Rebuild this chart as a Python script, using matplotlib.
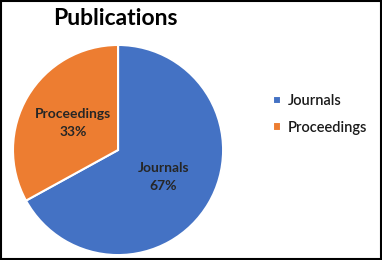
import matplotlib.pyplot as plt
from matplotlib.patches import Rectangle

categories = ["Journals", "Proceedings"]
shares = [67, 33]
colors = ["#4472C4", "#ED7D31"]

plt.rcParams["font.family"] = ["Lato", "DejaVu Sans"]

fig = plt.figure(figsize=(3.82, 2.60), dpi=100)
ax = fig.add_axes([0.034, 0.019, 0.55, 0.808])

wedges, texts, autotexts = ax.pie(
    shares,
    colors=colors,
    startangle=90,
    counterclock=False,
    autopct=lambda p: "",
    pctdistance=0.5,
    wedgeprops={"edgecolor": "white", "linewidth": 1.5},
)
for wedge, at, name, val in zip(wedges, autotexts, categories, shares):
    at.set_text(f"{name}\n{val}%")
    at.set_fontsize(10)
    at.set_fontweight("bold")
    at.set_color("#262626")
    at.set_ha("center")
    at.set_va("center")
    at.set_linespacing(1.6)
ax.set_aspect("equal")
ax.set_xlim(-1, 1)
ax.set_ylim(-1, 1)

fig.text(0.303, 0.93, "Publications", ha="center", va="center",
         fontsize=16.5, fontweight="bold", color="#000000")

leg = fig.legend(
    wedges, categories,
    loc="center left", bbox_to_anchor=(0.68, 0.56),
    frameon=False, fontsize=10.5, handlelength=0.55, handleheight=0.55,
    handletextpad=0.45, labelspacing=0.85,
)
for t in leg.get_texts():
    t.set_fontweight("semibold")
    t.set_color("#1a1a1a")

fig.patches.append(Rectangle((0.002, 0.003), 0.995, 0.993, transform=fig.transFigure,
                             fill=False, edgecolor="black", linewidth=1.5))

fig.savefig("out.png", dpi=100)
